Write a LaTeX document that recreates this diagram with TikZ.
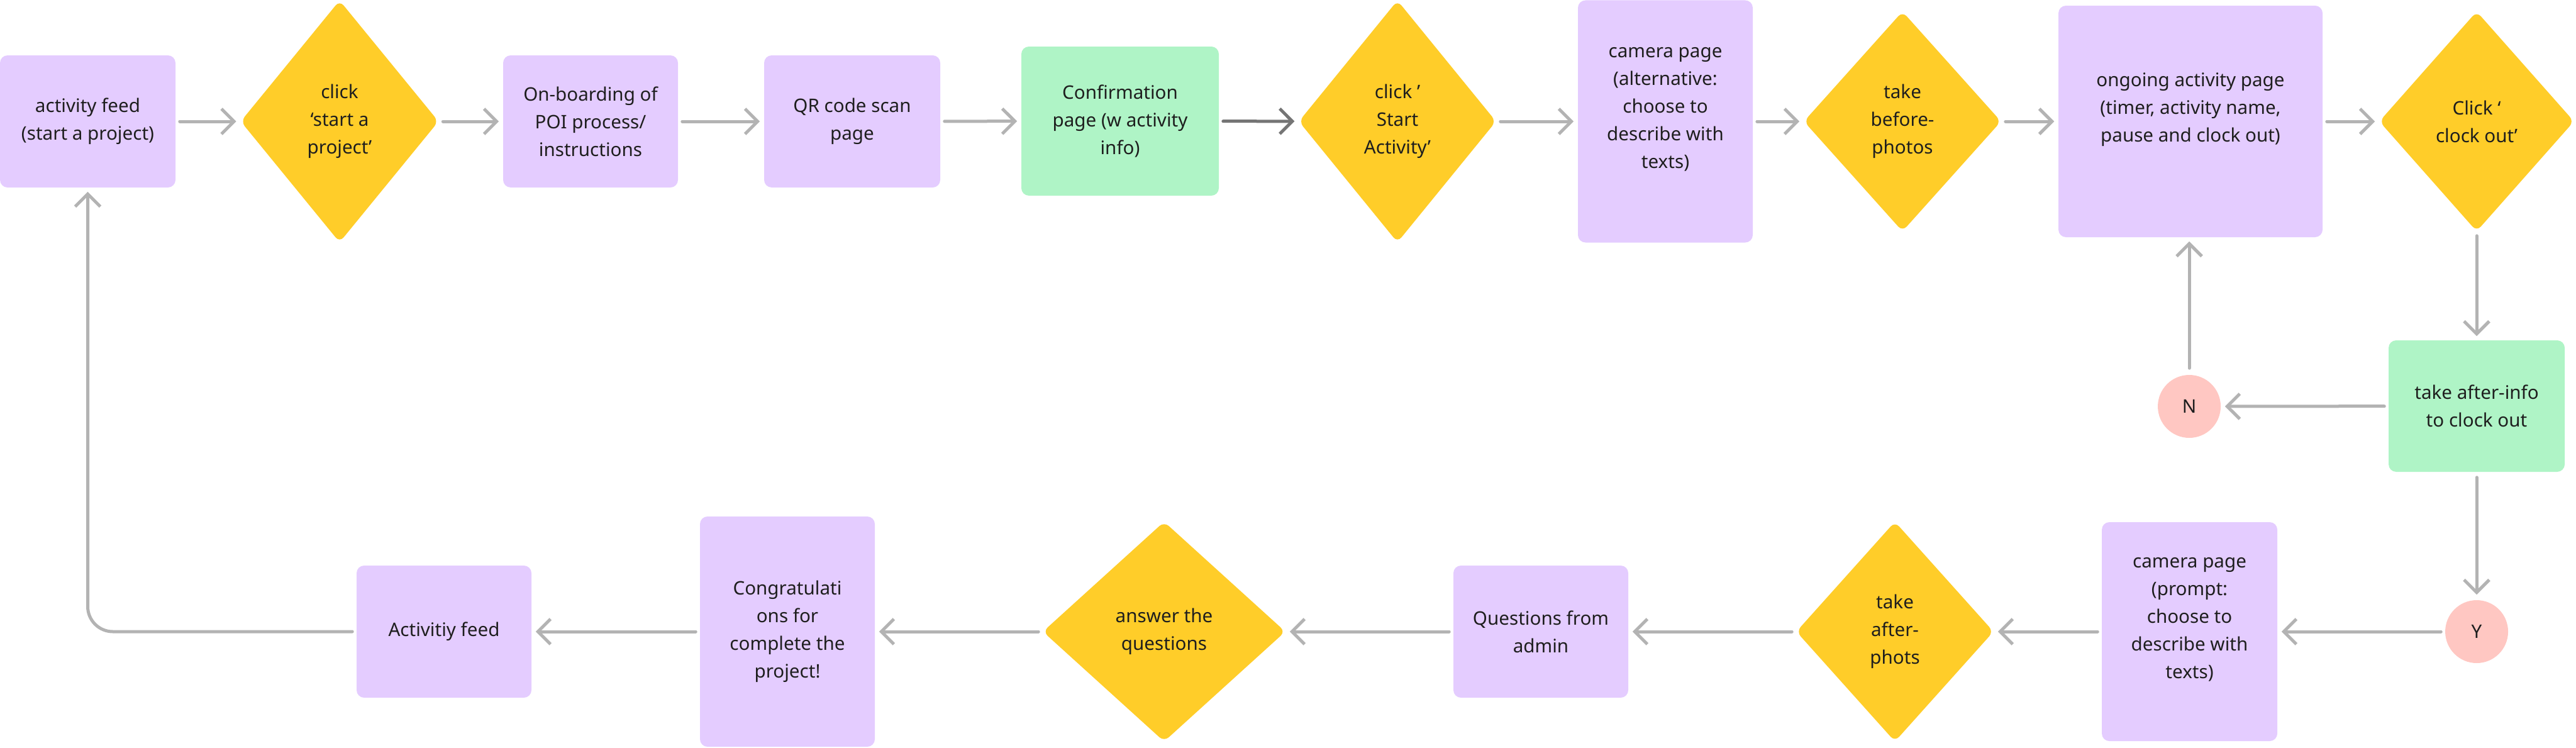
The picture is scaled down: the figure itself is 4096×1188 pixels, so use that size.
\documentclass[tikz,border=0pt]{standalone}
\usepackage{fontspec}
\setmainfont{Noto Sans}
\usetikzlibrary{shapes.geometric,arrows.meta}
\definecolor{pur}{HTML}{E4CCFF}
\definecolor{grn}{HTML}{AFF4C6}
\definecolor{yel}{HTML}{FFCD29}
\definecolor{pnk}{HTML}{FFC7C2}
\definecolor{ink}{HTML}{1E1E1E}
\definecolor{lgray}{HTML}{B3B3B3}
\definecolor{dgray}{HTML}{757575}
\begin{document}
\begin{tikzpicture}[x=0.25pt,y=-0.25pt,
  every node/.style={font=\fontsize{7.4pt}{11pt}\selectfont, text=ink, align=center},
  box/.style={rectangle, rounded corners=3pt, fill=pur, inner sep=0pt},
  gbox/.style={box, fill=grn},
  dia/.style={diamond, fill=yel, rounded corners=2.5pt, inner sep=0pt},
  dot/.style={circle, fill=pnk, minimum size=25pt, inner sep=0pt},
  link/.style={draw=lgray, line width=1.25pt, line cap=round, line join=round,
    -{Straight Barb[length=5pt,width=10pt]}, shorten <=1.5pt, shorten >=1.5pt},
  dlink/.style={link, draw=dgray},
]
\useasboundingbox (0,0) rectangle (4096,1188);

\node[box, minimum width=69.75pt, minimum height=52.5pt] (feed1) at (139.5,193) {activity feed\\(start a project)};
\node[dia, minimum width=78.75pt, minimum height=96.25pt] (d1) at (540,193) {click\\‘start a\\project’};
\node[box, minimum width=69.5pt, minimum height=52.5pt] (onb) at (939,193) {On-boarding of\\POI process/\\instructions};
\node[box, minimum width=70pt, minimum height=52.5pt] (qr) at (1355,193) {QR code scan\\page};
\node[gbox, minimum width=78.5pt, minimum height=59.25pt] (conf) at (1781,192.5) {Confirmation\\page (w activity\\info)};
\node[dia, minimum width=78.5pt, minimum height=96.25pt] (d2) at (2222,193) {click ’\\Start\\Activity’};
\node[box, minimum width=69.5pt, minimum height=96.25pt] (cam1) at (2648,193) {camera page\\(alternative:\\choose to\\describe with\\texts)\\\mbox{}};
\node[dia, minimum width=78.5pt, minimum height=87.5pt] (d3) at (3025,193) {take\\before-\\photos};
\node[box, minimum width=105pt, minimum height=92pt] (ong) at (3483,193) {ongoing activity page\\(timer, activity name,\\pause and clock out)\\\mbox{}};
\node[dia, minimum width=77.5pt, minimum height=87.5pt] (d4) at (3938,193) {Click ‘\\clock out’};
\node[gbox, minimum width=70pt, minimum height=52.25pt] (after) at (3938,645.5) {take after-info\\to clock out};
\node[dot] (N) at (3481,646) {N};
\node[dot] (Y) at (3938,1004) {Y};
\node[box, minimum width=69.75pt, minimum height=87pt] (cam2) at (3481.5,1004) {camera page\\(prompt:\\choose to\\describe with\\texts)\\\mbox{}};
\node[dia, minimum width=78.5pt, minimum height=87.5pt] (d5) at (3013,1004) {take\\after-\\phots};
\node[box, minimum width=69.5pt, minimum height=52.5pt] (q) at (2450,1004) {Questions from\\admin};
\node[dia, minimum width=96.5pt, minimum height=87.5pt] (d6) at (1851,1004) {answer the\\questions};
\node[box, minimum width=69.5pt, minimum height=91.5pt] (congr) at (1252,1004) {Congratulati\\ons for\\complete the\\project!};
\node[box, minimum width=69.5pt, minimum height=52.5pt] (feed2) at (706,1004) {Activitiy feed};

\draw[link] (feed1) -- (d1);
\draw[link] (d1) -- (onb);
\draw[link] (onb) -- (qr);
\draw[link] (qr) -- (conf);
\draw[dlink] (conf) -- (d2);
\draw[link] (d2) -- (cam1);
\draw[link] (cam1) -- (d3);
\draw[link] (d3) -- (ong);
\draw[link] (ong) -- (d4);
\draw[link] (d4) -- (after);
\draw[link] (after) -- (N);
\draw[link, shorten <=2.5pt] (N) -- (N |- ong.south);
\draw[link, shorten <=2pt, shorten >=2pt] (after) -- (Y);
\draw[link] (Y) -- (cam2);
\draw[link] (cam2) -- (d5);
\draw[link] (d5) -- (q);
\draw[link] (q) -- (d6);
\draw[link] (d6) -- (congr);
\draw[link] (congr) -- (feed2);
\draw[link, rounded corners=10pt] (feed2.west) -| (feed1.south);
\end{tikzpicture}
\end{document}
